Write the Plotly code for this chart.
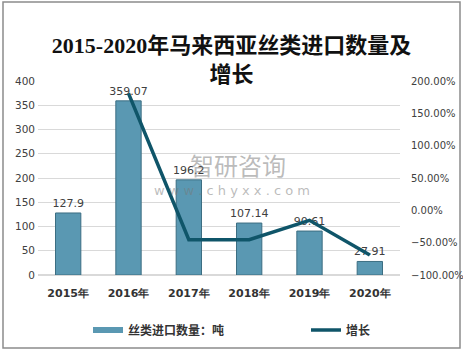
import plotly.graph_objects as go

years = ["2015年", "2016年", "2017年", "2018年", "2019年", "2020年"]
quantity = [127.9, 359.07, 196.2, 107.14, 90.61, 27.91]
quantity_labels = ["127.9", "359.07", "196.2", "107.14", "90.61", "27.91"]
growth = [None, 1.8075, -0.4536, -0.4539, -0.1543, -0.6920]

W, H = 463, 352
ml, mr, mt, mb = 38, 63, 81, 77
pw = W - ml - mr
ph = H - mt - mb

def px_x(x):
    return (x - ml) / pw

def px_y(y):
    return (H - mb - y) / ph

BAR_COLOR = "#5A98B2"

fig = go.Figure()
fig.add_trace(go.Bar(
    x=years, y=quantity, name="丝类进口数量：吨", showlegend=False,
    text=quantity_labels, textposition="outside", constraintext="none",
    textfont=dict(family="DejaVu Sans", size=11, color="#404040"),
    marker=dict(color=BAR_COLOR, line=dict(color="#3C6E82", width=1)),
    cliponaxis=False,
))
# legend entry for the bars (wide rectangle swatch as in the reference)
fig.add_trace(go.Scatter(
    x=[None], y=[None], name="丝类进口数量：吨", mode="lines",
    line=dict(color=BAR_COLOR, width=6), legend="legend",
))
fig.add_trace(go.Scatter(
    x=years, y=growth, name="增长", yaxis="y2", mode="lines",
    line=dict(color="#0F5569", width=3.5), legend="legend2",
))

legend_font = dict(family="Noto Sans CJK SC", size=12, color="#333333", weight="bold")

fig.update_layout(
    width=W, height=H,
    margin=dict(l=ml, r=mr, t=mt, b=mb, autoexpand=False),
    paper_bgcolor="white", plot_bgcolor="white",
    bargap=0.58,
    title=dict(
        text="<b>2015-2020年马来西亚丝类进口数量及<br>增长</b>",
        x=0.5, xanchor="center", y=1 - 53 / H, yanchor="middle",
        font=dict(family="Liberation Serif, Noto Sans CJK SC", size=22, color="#111111"),
    ),
    xaxis=dict(
        tickfont=dict(family="DejaVu Sans", size=11, color="#333333", weight="bold"),
        showline=False, ticks="", ticklabelstandoff=10,
    ),
    yaxis=dict(
        range=[0, 400], dtick=50,
        tickfont=dict(family="DejaVu Sans", size=10.5, color="#404040"),
        gridcolor="#D9D9D9", zeroline=True, zerolinecolor="#D9D9D9",
        showline=False, ticks="", ticklabelstandoff=2,
    ),
    yaxis2=dict(
        range=[-1, 2], dtick=0.5, tickformat=".2%",
        overlaying="y", side="right", showgrid=False, zeroline=False,
        tickfont=dict(family="DejaVu Sans", size=10, color="#404040"),
        ticklabelstandoff=10,
    ),
    legend=dict(
        orientation="h", x=px_x(88), xanchor="left", y=px_y(330), yanchor="middle",
        font=legend_font, bgcolor="rgba(0,0,0,0)", itemwidth=30,
    ),
    legend2=dict(
        orientation="h", x=px_x(306), xanchor="left", y=px_y(330), yanchor="middle",
        font=legend_font, bgcolor="rgba(0,0,0,0)", itemwidth=30,
    ),
    showlegend=True,
)

# outer frame
fig.add_shape(type="rect", xref="paper", yref="paper",
              x0=px_x(3), x1=px_x(460), y0=px_y(348), y1=px_y(2),
              line=dict(color="#8C8C8C", width=1.5), fillcolor="rgba(0,0,0,0)", layer="below")

# watermark
fig.add_annotation(xref="paper", yref="paper", x=px_x(238), y=px_y(164),
                   text="智研咨询", showarrow=False,
                   font=dict(family="Noto Sans CJK SC", size=24, color="rgba(120,120,120,0.5)"))
fig.add_annotation(xref="paper", yref="paper", x=px_x(232), y=px_y(190),
                   text="w w w . c h y x x . c o m", showarrow=False,
                   font=dict(family="DejaVu Sans", size=13, color="rgba(120,120,120,0.5)"))

fig.write_html("out.html")
